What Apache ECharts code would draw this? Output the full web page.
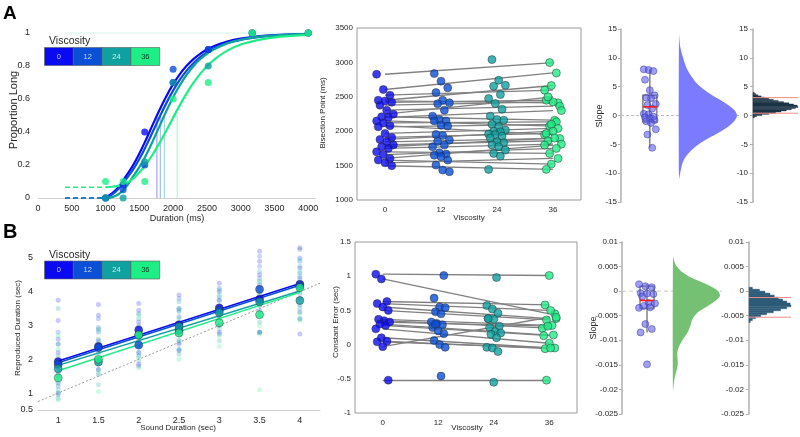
<!DOCTYPE html>
<html><head><meta charset="utf-8">
<script src="https://cdn.jsdelivr.net/npm/echarts@6/dist/echarts.min.js"></script>
<style>html,body{margin:0;padding:0;background:#fff}#c{width:800px;height:437px}</style>
</head><body><div id="c"></div>
<script>
// ---------- DATA ----------
const viscosities = ['0','12','24','36'];
const cats = [0, 12, 24, 36];
const colors = ['#0a0af2', '#0a4fd6', '#0fa0a0', '#1eee86'];

// Panel A left: psychometric data
const durTicks = [0,500,1000,1500,2000,2500,3000,3500,4000];
const durations = [1000,1260,1580,2000,2520,3170,4000];
const propLong0 = [0, 0.08, 0.4, 0.7, 0.9, 1, 1];
const propLong12 = [0, 0.05, 0.2, 0.78, 0.9, 1, 1];
const propLong24 = [0, 0, 0.22, 0.7, 0.8, 1, 1];
const propLong36 = [0.1, 0.1, 0.1, 0.6, 0.7, 1, 1];
const curveX = [1000,1100,1200,1300,1400,1500,1600,1700,1800,1900,2000,2100,2200,2300,2400,2500,2600,2800,3000,3250,3500,3750,4000];
const curve0 = [0.005,0.03,0.07,0.131,0.193,0.269,0.355,0.446,0.535,0.617,0.69,0.751,0.801,0.842,0.874,0.9,0.92,0.948,0.966,0.979,0.987,0.991,0.994];
const curve12 = [0.003,0.022,0.06,0.112,0.167,0.236,0.316,0.403,0.491,0.575,0.651,0.717,0.772,0.817,0.854,0.883,0.906,0.939,0.959,0.975,0.984,0.99,0.993];
const curve24 = [0,0.005,0.025,0.065,0.127,0.187,0.261,0.346,0.437,0.527,0.61,0.684,0.747,0.799,0.841,0.874,0.9,0.937,0.959,0.976,0.985,0.99,0.994];
const curve36 = [0.065,0.068,0.075,0.09,0.115,0.155,0.205,0.265,0.335,0.409,0.487,0.563,0.634,0.697,0.752,0.798,0.836,0.893,0.93,0.957,0.974,0.983,0.989];
const pse = [1760, 1810, 1870, 2060];
const guessRate = [0, 0, 0, 0.065];
const dashFrom = 400, dashTo = 1000;

// Panel A middle: bisection points per subject
const bp0  = [2828,2606,2523,2450,2440,2420,2378,2306,2248,2210,2200,2150,2120,2080,2064,1967,1909,1880,1846,1800,1774,1750,1700,1660,1604,1580,1540,1498];
const bp12 = [2838,2727,2630,2562,2450,2412,2400,2306,2219,2170,2150,2150,2088,2074,1953,1938,1870,1850,1798,1774,1687,1667,1650,1629,1580,1508,1435,1411];
const bp24 = [3041,2741,2668,2654,2533,2475,2402,2320,2219,2170,2160,2100,2064,2016,2000,1991,1958,1950,1929,1900,1846,1832,1800,1774,1725,1677,1638,1445];
const bp36 = [2997,2847,2596,2664,2412,2450,2426,2364,2499,2160,2300,2074,2136,1950,2100,2040,1967,2000,1895,1861,1900,1812,1677,1750,1798,1522,1604,1445];

// Panel A right: slopes
const slopeA = [8.0,7.9,7.7,6.2,4.4,3.5,3.1,3.0,2.0,1.8,1.2,0.3,0.2,-0.2,-0.3,-0.5,-0.8,-1.0,-1.3,-2.4,-3.3,-5.6];
const boxA = [-5.6, -1.1, 1.5, 3.5, 8.0];
const violinAY = [14,12,10,8,6,5,4,3,2,1,0,-1,-2,-3,-4,-5,-6,-7,-8,-9,-10,-11];
const violinAD = [0,0.02,0.07,0.14,0.27,0.37,0.5,0.66,0.82,0.95,1.0,0.95,0.84,0.68,0.5,0.34,0.22,0.13,0.07,0.04,0.02,0];
const histAY = [-0.3,-0.1,0.1,0.3,0.5,0.7,0.9,1.1,1.3,1.5,1.7,1.9,2.1,2.3,2.5,2.7,2.9,3.1,3.3,3.5,3.7,3.9];
const histAC = [0.03,0.08,0.2,0.35,0.5,0.62,0.74,0.85,0.94,1.0,0.98,0.9,0.8,0.68,0.56,0.45,0.35,0.26,0.18,0.11,0.06,0.03];
const histABin = 0.2;
const ciA = [0.4, 3.1];

// Panel B left: reproduction
const soundDur = [1,1.5,2,2.5,3,3.5,4];
const mean0  = [1.93,2.38,2.87,3.02,3.52,3.78,4.22];
const mean12 = [1.85,2.35,2.42,2.85,3.45,4.07,4.17];
const mean24 = [1.72,1.92,2.72,2.97,3.38,3.70,3.74];
const mean36 = [1.45,2.00,2.72,2.78,3.08,3.32,4.12];
const regStart = [1.95,1.90,1.82,1.66];
const regEnd = [4.24,4.19,4.02,3.98];
const faint0 = [[3.75,3.15,2.6,2.2,1.9,1.6,1.3,1.0],[3.62,3.3,2.9,2.55,2.3,2.0,1.7],[3.65,3.45,3.1,2.8,2.55,2.2,1.85],[3.9,3.5,3.25,3.0,2.75,2.45,2.25],[4.25,4.0,3.75,3.5,3.25,3.0,2.8],[5.2,4.9,4.5,4.2,3.9,3.6,3.3,2.8],[5.3,5.0,4.7,4.4,4.1,3.8,3.4,2.75]];
const faint12 = [[2.8,2.45,2.0,1.75,1.45,1.2,0.95],[3.2,2.8,2.45,2.2,1.85,1.55],[3.35,3.0,2.7,2.4,2.1,1.8],[3.8,3.45,3.1,2.85,2.55,2.3],[4.1,3.85,3.6,3.3,3.05,2.75],[5.05,4.75,4.4,4.1,3.8,3.45,2.8],[5.25,4.9,4.55,4.25,3.95,3.6,3.2]];
const faint24 = [[3.5,2.45,2.1,1.8,1.5,1.1,0.85],[2.95,2.6,2.3,2.0,1.7,1.25],[3.2,2.95,2.65,2.4,2.2,1.95],[3.7,3.4,3.05,2.8,2.5,2.15],[4.05,3.75,3.45,3.2,2.9,2.55],[4.6,4.3,4.0,3.7,3.4,3.1,2.8],[4.75,4.45,4.15,3.8,3.5,3.2]];
const faint36 = [[2.7,2.3,1.85,1.55,1.3,1.0,0.8],[2.85,2.5,2.2,1.95,1.6,1.05],[3.3,2.9,2.6,2.35,2.05,1.75],[3.5,3.2,2.9,2.6,2.3,2.0],[3.9,3.55,3.25,3.0,2.7,2.38],[4.3,3.95,3.6,3.3,3.0,2.75,1.1],[4.95,4.6,4.3,4.0,3.65,3.35,3.15]];

// Panel B middle: constant error per subject
const ce0  = [1.03,0.96,0.63,0.60,0.55,0.50,0.37,0.35,0.33,0.30,0.28,0.23,0.10,0.05,0.04,-0.03,-0.52];
const ce12 = [1.01,0.68,0.55,0.54,0.48,0.45,0.33,0.31,0.29,0.25,0.20,0.16,0.06,0.00,-0.04,0.30,-0.46];
const ce24 = [0.98,0.57,0.52,0.46,0.38,0.37,0.27,0.25,0.19,0.17,0.15,0.10,-0.04,-0.05,-0.10,0.38,-0.55];
const ce36 = [1.01,0.45,0.58,0.50,0.38,0.36,0.28,0.24,0.27,0.14,0.13,0.02,-0.05,-0.06,-0.05,0.40,-0.52];

// Panel B right: slopes
const slopeB = [0.0014,0.001,0.0008,-0.0004,-0.0005,-0.0006,-0.0011,-0.0024,-0.0025,-0.003,-0.0033,-0.0034,-0.0067,-0.0077,-0.0084,-0.0149];
const boxB = [-0.0084, -0.0035, -0.0019, 0.001, 0.0014];
const violinBY = [0.007,0.006,0.005,0.004,0.003,0.002,0.001,0,-0.001,-0.002,-0.003,-0.004,-0.005,-0.006,-0.007,-0.008,-0.009,-0.01,-0.011,-0.012,-0.013,-0.014,-0.015,-0.016,-0.017,-0.018,-0.019,-0.0205];
const violinBD = [0,0.03,0.08,0.18,0.34,0.57,0.8,0.96,1.0,0.9,0.74,0.57,0.46,0.4,0.37,0.33,0.27,0.2,0.14,0.1,0.09,0.1,0.1,0.08,0.05,0.03,0.015,0];
const histBY = [0.0006,0.0002,-0.0002,-0.0006,-0.001,-0.0014,-0.0018,-0.0022,-0.0026,-0.003,-0.0034,-0.0038,-0.0042,-0.0046,-0.005,-0.0054,-0.0058,-0.0062];
const histBC = [0.08,0.25,0.38,0.5,0.6,0.7,0.8,0.9,0.98,1.0,0.9,0.75,0.58,0.42,0.28,0.16,0.08,0.03];
const histBBin = 0.0004;
const ciB = [-0.0053, -0.0013];

// ---------- STYLE / LAYOUT ----------
const FONT = '"Liberation Sans", Arial, Helvetica, sans-serif';
const TXT = '#262626';
const AXC = '#b0b0b0';
const lab = (size, extra) => Object.assign({fontSize: size, color: TXT, fontFamily: FONT}, extra || {});
const jit = (i, amp) => ((((i * 37) % 11) / 10) - 0.5) * 2 * amp;
const plain = v => String(+(+v).toFixed(4));

const G = (left, top, width, height, extra) => Object.assign({left, top, width, height, containLabel: false, outerBoundsMode: 'none'}, extra || {});
const grids = [
  G(38, 33, 277, 165),
  G(357, 28, 224, 172, {show: true, borderColor: '#9a9a9a', borderWidth: 1}),
  G(621, 29, 120, 173),
  G(679, 29, 58, 173),
  G(753, 29, 45, 173),
  G(38, 241, 282, 169),
  G(355, 242, 222, 171, {show: true, borderColor: '#9a9a9a', borderWidth: 1}),
  G(622, 242, 100, 172),
  G(673, 242, 47, 172),
  G(749, 242, 42, 172)
];

const hiddenX = (gi) => ({gridIndex: gi, type: 'value', min: 0, max: 1, show: false});
const hiddenY = (gi, mn, mx) => ({gridIndex: gi, type: 'value', min: mn, max: mx, show: false});
const slopeY = (gi, mn, mx, iv, margin) => ({gridIndex: gi, type: 'value', min: mn, max: mx, interval: iv,
  axisLine: {show: true, lineStyle: {color: AXC, width: 1.5}}, axisTick: {show: true, length: 3, lineStyle: {color: AXC}},
  splitLine: {show: false}, axisLabel: lab(8, {margin: margin, formatter: plain})});

const xAxes = [
  {gridIndex: 0, type: 'value', min: 0, max: 4100, axisLine: {show: true, onZero: false, lineStyle: {color: '#cfcfcf'}},
   axisTick: {show: false}, splitLine: {show: false}, axisLabel: lab(9, {margin: 6, customValues: durTicks, formatter: plain})},
  {gridIndex: 1, type: 'value', min: -6, max: 42, axisLine: {show: false}, axisTick: {show: false},
   splitLine: {show: false}, axisLabel: lab(8, {margin: 6, customValues: cats, formatter: plain})},
  hiddenX(2), hiddenX(3), hiddenX(4),
  {gridIndex: 5, type: 'value', min: 0.75, max: 4.25, axisLine: {show: true, onZero: false, lineStyle: {color: '#cfcfcf'}},
   axisTick: {show: false}, splitLine: {show: false}, axisLabel: lab(9, {margin: 6, customValues: soundDur, formatter: plain})},
  {gridIndex: 6, type: 'value', min: -6, max: 42, axisLine: {show: false}, axisTick: {show: false},
   splitLine: {show: false}, axisLabel: lab(8, {margin: 6, customValues: cats, formatter: plain})},
  hiddenX(7), hiddenX(8), hiddenX(9)
];
const yAxes = [
  {gridIndex: 0, type: 'value', min: 0, max: 1, interval: 0.2, axisLine: {show: false}, axisTick: {show: false},
   splitLine: {show: false}, axisLabel: lab(9, {margin: 8, formatter: plain})},
  {gridIndex: 1, type: 'value', min: 1000, max: 3500, interval: 500, axisLine: {show: false},
   axisTick: {show: false}, splitLine: {show: false}, axisLabel: lab(8, {margin: 4, formatter: plain})},
  slopeY(2, -15, 15, 5, 4),
  hiddenY(3, -15, 15),
  slopeY(4, -15, 15, 5, 5),
  {gridIndex: 5, type: 'value', min: 0.5, max: 5.5, axisLine: {show: false}, axisTick: {show: false},
   splitLine: {show: false}, axisLabel: lab(9, {margin: 5, customValues: [0.5,1,2,3,4,5], formatter: plain})},
  {gridIndex: 6, type: 'value', min: -1, max: 1.5, interval: 0.5, axisLine: {show: false},
   axisTick: {show: false}, splitLine: {show: false}, axisLabel: lab(8, {margin: 4, formatter: plain})},
  slopeY(7, -0.025, 0.01, 0.005, 4),
  hiddenY(8, -0.025, 0.01),
  slopeY(9, -0.025, 0.01, 0.005, 5)
];

const series = [];
const lineS = (gi, data, color, width, extra) => Object.assign({type: 'line', xAxisIndex: gi, yAxisIndex: gi, data: data,
  showSymbol: false, symbol: 'none', clip: false, silent: true, lineStyle: {color: color, width: width}}, extra || {});

// ---- Panel A left
const propLong = [propLong0, propLong12, propLong24, propLong36];
const curves = [curve0, curve12, curve24, curve36];
series.push(lineS(0, [[dashFrom, 1], [4000, 1]], '#d2f3e8', 1));
for (let k = 0; k < 4; k++) {
  series.push(lineS(0, [[pse[k], 0], [pse[k], 0.5]], colors[k], 1, {lineStyle: {color: colors[k], width: 1, opacity: 0.45}}));
}
for (let k = 0; k < 4; k++) {
  series.push(lineS(0, [[dashFrom, guessRate[k]], [dashTo, guessRate[k]]], colors[k], 1.6, {lineStyle: {color: colors[k], width: 1.6, type: [5, 3], opacity: k === 3 ? 1 : 0.7}}));
}
for (let k = 0; k < 4; k++) {
  series.push(lineS(0, curveX.map((x, i) => [x, curves[k][i]]), colors[k], 2.2, {smooth: 0.4}));
}
for (let k = 0; k < 4; k++) {
  series.push({type: 'scatter', xAxisIndex: 0, yAxisIndex: 0, clip: false, symbolSize: 7, z: 5,
    data: durations.map((d, i) => [d, propLong[k][i]]), itemStyle: {color: colors[k]}});
}

// ---- Panel A middle
const bps = [bp0, bp12, bp24, bp36];
series.push({type: 'lines', coordinateSystem: 'cartesian2d', xAxisIndex: 1, yAxisIndex: 1, silent: true, z: 2,
  data: bp0.map((v, i) => ({coords: [[cats[0], v], [cats[3], bp36[i]]]})), lineStyle: {color: '#808080', width: 1.3, opacity: 1}});
for (let k = 0; k < 4; k++) {
  series.push({type: 'scatter', xAxisIndex: 1, yAxisIndex: 1, clip: false, symbolSize: 8, z: 4,
    data: bps[k].map((v, i) => [cats[k] + jit(i + k * 3, 1.8), v]),
    itemStyle: {color: colors[k], borderColor: '#2a2a2a', borderWidth: 0.6}});
}

// ---- helpers for raincloud panels
function boxSeries(gi, center, halfW, b) {
  return {type: 'custom', xAxisIndex: gi, yAxisIndex: gi, clip: false, silent: true, z: 3,
    data: [[center, b[0], b[1], b[2], b[3], b[4]]], encode: {x: 0, y: [1, 2, 3, 4, 5]},
    renderItem: (params, api) => {
      const lo = api.coord([center, b[0]]), hi = api.coord([center, b[4]]);
      const q1 = api.coord([center - halfW, b[1]]), q3 = api.coord([center + halfW, b[3]]);
      return {type: 'group', children: [
        {type: 'line', shape: {x1: lo[0], y1: lo[1], x2: hi[0], y2: hi[1]}, style: {stroke: '#8c8c8c', lineWidth: 1.6}},
        {type: 'rect', shape: {x: q1[0], y: q3[1], width: q3[0] - q1[0], height: q1[1] - q3[1]}, style: {fill: 'none', stroke: '#8c8c8c', lineWidth: 1.6}}
      ]};
    }};
}
function medianSeries(gi, center, halfW, b) {
  return {type: 'custom', xAxisIndex: gi, yAxisIndex: gi, clip: false, silent: true, z: 6,
    data: [[center, b[2]]],
    renderItem: (params, api) => {
      const mL = api.coord([center - halfW, b[2]]), mR = api.coord([center + halfW, b[2]]);
      return {type: 'line', shape: {x1: mL[0], y1: mL[1], x2: mR[0], y2: mR[1]}, style: {stroke: '#ff1a1a', lineWidth: 1.6}};
    }};
}
function violinSeries(gi, ys, ds, fill) {
  return {type: 'custom', xAxisIndex: gi, yAxisIndex: gi, clip: false, silent: true, z: 2,
    data: ys.map((y, i) => [ds[i], y]),
    renderItem: (params, api) => {
      if (params.dataIndex !== 0) return null;
      const pts = ys.map((y, i) => api.coord([ds[i], y]));
      return {type: 'polygon', shape: {points: pts, smooth: 0.3}, style: {fill: fill}};
    }};
}
function histSeries(gi, ys, cs, bw, fill) {
  return {type: 'custom', xAxisIndex: gi, yAxisIndex: gi, clip: false, silent: true, z: 2,
    data: ys.map((y, i) => [cs[i], y]),
    renderItem: (params, api) => {
      const c = api.value(0), y = api.value(1);
      const p1 = api.coord([0, y + bw / 2]), p2 = api.coord([c, y - bw / 2]);
      return {type: 'rect', shape: {x: p1[0], y: p1[1], width: p2[0] - p1[0], height: p2[1] - p1[1]},
        style: {fill: fill, stroke: fill, lineWidth: 0.4}};
    }};
}

// ---- Panel A right
series.push(lineS(2, [[0, 0], [1, 0]], '#bdbdbd', 1, {lineStyle: {color: '#bdbdbd', width: 1, type: [3, 2]}, z: 1}));
series.push(boxSeries(2, 0.24, 0.058, boxA));
series.push({type: 'scatter', xAxisIndex: 2, yAxisIndex: 2, clip: false, symbolSize: 7, z: 5,
  data: slopeA.map((v, i) => [0.24 + jit(i, 0.05), v]),
  itemStyle: {color: 'rgba(88,88,236,0.72)', borderColor: '#3535a0', borderWidth: 0.6}});
series.push(medianSeries(2, 0.24, 0.058, boxA));
series.push(violinSeries(3, violinAY, violinAD, '#7b7bff'));
series.push(histSeries(4, histAY, histAC, histABin, '#1c3546'));
ciA.forEach(c => series.push(lineS(4, [[0, c], [1, c]], '#f28a8a', 1, {z: 4})));

// ---- Panel B left
const means = [mean0, mean12, mean24, mean36];
const faints = [faint0, faint12, faint24, faint36];
for (let k = 0; k < 4; k++) {
  const d = [];
  faints[k].forEach((arr, j) => arr.forEach(v => d.push([soundDur[j], v])));
  series.push({type: 'scatter', xAxisIndex: 5, yAxisIndex: 5, clip: false, symbolSize: 5, z: 2, data: d,
    itemStyle: {color: colors[k], opacity: 0.22}});
}
series.push(lineS(5, [[0.75, 0.75], [4.25, 4.25]], '#9a9a9a', 1, {lineStyle: {color: '#9a9a9a', width: 1, type: [2, 2]}, z: 3}));
for (let k = 0; k < 4; k++) {
  series.push(lineS(5, [[soundDur[0], regStart[k]], [soundDur[6], regEnd[k]]], colors[k], 1.5, {z: 4}));
}
for (let k = 0; k < 4; k++) {
  series.push({type: 'scatter', xAxisIndex: 5, yAxisIndex: 5, clip: false, symbolSize: 8, z: 5,
    data: soundDur.map((x, i) => [x, means[k][i]]),
    itemStyle: {color: colors[k], borderColor: '#2a2a2a', borderWidth: 0.5}});
}

// ---- Panel B middle
const ces = [ce0, ce12, ce24, ce36];
series.push({type: 'lines', coordinateSystem: 'cartesian2d', xAxisIndex: 6, yAxisIndex: 6, silent: true, z: 2,
  data: ce0.map((v, i) => ({coords: [[cats[0], v], [cats[3], ce36[i]]]})), lineStyle: {color: '#808080', width: 1.3, opacity: 1}});
for (let k = 0; k < 4; k++) {
  series.push({type: 'scatter', xAxisIndex: 6, yAxisIndex: 6, clip: false, symbolSize: 8, z: 4,
    data: ces[k].map((v, i) => [cats[k] + jit(i + k * 5, 1.5), v]),
    itemStyle: {color: colors[k], borderColor: '#2a2a2a', borderWidth: 0.6}});
}

// ---- Panel B right
series.push(lineS(7, [[0, 0], [1, 0]], '#c8c8c8', 1, {lineStyle: {color: '#c8c8c8', width: 1, type: [4, 3]}, z: 1}));
series.push(boxSeries(7, 0.25, 0.07, boxB));
series.push({type: 'scatter', xAxisIndex: 7, yAxisIndex: 7, clip: false, symbolSize: 7, z: 5,
  data: slopeB.map((v, i) => [0.25 + jit(i, 0.08), v]),
  itemStyle: {color: 'rgba(88,88,236,0.72)', borderColor: '#3535a0', borderWidth: 0.6}});
series.push(medianSeries(7, 0.25, 0.07, boxB));
series.push(violinSeries(8, violinBY, violinBD, '#74c174'));
series.push(histSeries(9, histBY, histBC, histBBin, '#2d5b78'));
ciB.forEach(c => series.push(lineS(9, [[0, c], [1, c]], '#f28a8a', 1, {z: 4})));

// ---------- TEXT & LEGENDS ----------
const graphics = [];
function txt(x, y, s, size, opts) {
  opts = opts || {};
  graphics.push({type: 'text', x: x, y: y, rotation: opts.rot || 0, z: 100, silent: true,
    style: {text: s, fontSize: size, fontFamily: FONT, fill: opts.color || TXT, fontWeight: opts.bold ? 'bold' : 'normal',
      align: opts.align || 'center', verticalAlign: opts.va || 'middle',
      textAlign: opts.align || 'center', textVerticalAlign: opts.va || 'middle'}});
}
const R = Math.PI / 2;
txt(3, 14, 'A', 19, {bold: true, align: 'left', color: '#000'});
txt(3, 232, 'B', 20, {bold: true, align: 'left', color: '#000'});
txt(14, 110, 'Proportion Long', 11, {rot: R});
txt(177, 219, 'Duration (ms)', 9);
txt(323, 113, 'Bisection Point (ms)', 8, {rot: R});
txt(469, 218, 'Viscosity', 8);
txt(600, 116, 'Slope', 9, {rot: R});
txt(18, 328, 'Reproduced Duration (sec)', 8, {rot: R});
txt(178, 428, 'Sound Duration (sec)', 8);
txt(336, 322, 'Constant Error (sec)', 8, {rot: R});
txt(467, 428, 'Viscosity', 8);
txt(594, 328, 'Slope', 9, {rot: R});

const cellText = ['#c9cdfa', '#c8daf6', '#cdeeee', '#0b3b22'];
function legend(top) {
  txt(49, top - 6, 'Viscosity', 10.5, {align: 'left'});
  const w = 28.8, x0 = 44.5;
  for (let k = 0; k < 4; k++) {
    graphics.push({type: 'rect', z: 99, silent: true, shape: {x: x0 + k * w, y: top, width: w, height: 18},
      style: {fill: colors[k], stroke: '#5a5a5a', lineWidth: 0.6}});
    txt(x0 + k * w + w / 2, top + 9, viscosities[k], 7.5, {color: cellText[k]});
  }
}
legend(47.5);
legend(261);

const chart = echarts.init(document.getElementById('c'), null, {renderer: 'canvas', width: 800, height: 437});
chart.setOption({
  animation: false,
  backgroundColor: '#ffffff',
  grid: grids,
  xAxis: xAxes,
  yAxis: yAxes,
  series: series,
  graphic: graphics
});
</script>
</body></html>
